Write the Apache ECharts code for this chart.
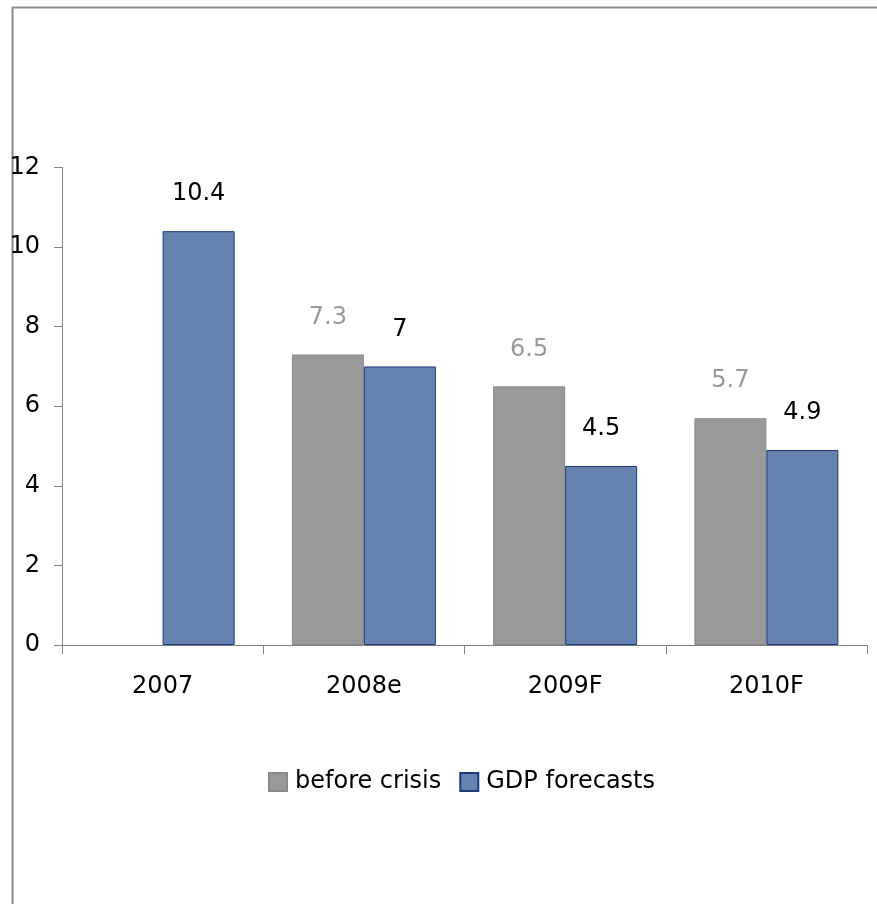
<!DOCTYPE html>
<html><head><meta charset="utf-8">
<script src="https://cdn.jsdelivr.net/npm/echarts@6/dist/echarts.min.js"></script>
<style>html,body{margin:0;padding:0;background:#fff}#c{width:877px;height:904px}</style>
</head><body><div id="c"></div>
<script>
const categories = ['2007', '2008e', '2009F', '2010F'];
const beforeCrisis = [null, 7.3, 6.5, 5.7];
const gdpForecasts = [10.4, 7.0, 4.5, 4.9];
const yTicks = [0, 2, 4, 6, 8, 10, 12];

const chart = echarts.init(document.getElementById('c'));
const font = 'DejaVu Sans, sans-serif';
const fs = 24;
chart.setOption({
  animation: false,
  backgroundColor: '#fff',
  textStyle: { fontFamily: font },
  graphic: [
    { type: 'line', shape: { x1: 12.5, y1: 7, x2: 12.5, y2: 904 }, style: { stroke: '#8c8c8c', lineWidth: 2 } },
    { type: 'line', shape: { x1: 12, y1: 7.5, x2: 877, y2: 7.5 }, style: { stroke: '#8c8c8c', lineWidth: 2 } }
  ],
  grid: { left: 62, right: 10, top: 167.5, bottom: 259, containLabel: false },
  legend: {
    data: ['before crisis', 'GDP forecasts'],
    left: 263, top: 765,
    itemWidth: 18, itemHeight: 18, itemGap: 18,
    textStyle: { fontSize: fs, color: '#000', fontFamily: font, padding: [0, 0, 0, 3] },
    icon: 'rect'
  },
  xAxis: {
    type: 'category', data: categories,
    axisLine: { lineStyle: { color: '#808080', width: 1 } },
    axisTick: { show: true, length: 9, lineStyle: { color: '#808080' } },
    axisLabel: { fontSize: fs, color: '#000', margin: 30, fontFamily: font }
  },
  yAxis: {
    type: 'value', min: yTicks[0], max: yTicks[yTicks.length - 1], interval: 2,
    splitLine: { show: false },
    axisLine: { show: true, lineStyle: { color: '#808080', width: 1 } },
    axisTick: { show: true, length: 8, lineStyle: { color: '#808080' } },
    axisLabel: { fontSize: fs, color: '#000', margin: 22, fontFamily: font }
  },
  series: [
    {
      name: 'before crisis', type: 'bar', data: beforeCrisis,
      barWidth: 72, barGap: '0%',
      itemStyle: { color: '#999999', borderColor: '#8a8a8a', borderWidth: 1 },
      label: { show: true, position: 'top', distance: 25, fontSize: fs, color: '#999999', fontFamily: font }
    },
    {
      name: 'GDP forecasts', type: 'bar', data: gdpForecasts,
      barWidth: 72, barGap: '0%',
      itemStyle: { color: '#6682B1', borderColor: '#1a3a78', borderWidth: 1 },
      label: { show: true, position: 'top', distance: 25, fontSize: fs, color: '#000', fontFamily: font }
    }
  ]
});
</script></body></html>
